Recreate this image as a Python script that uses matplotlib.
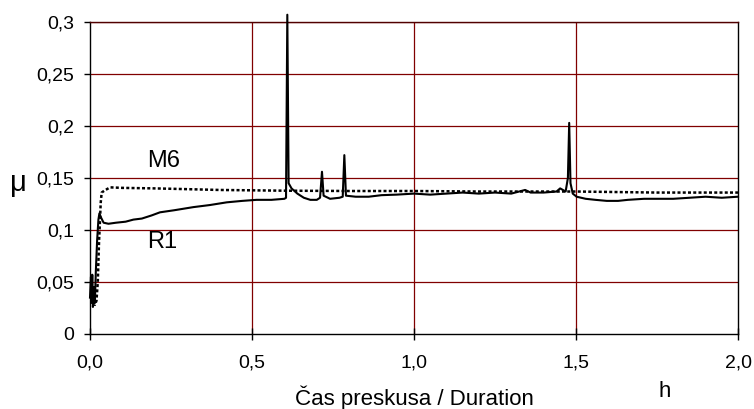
import matplotlib
matplotlib.use("Agg")
import matplotlib.pyplot as plt
from matplotlib.ticker import FuncFormatter

plt.rcParams['font.family'] = ['Liberation Sans', 'DejaVu Sans']

# R1 (solid)
r1_t = [0.000, 0.003, 0.005, 0.007, 0.009, 0.012, 0.015, 0.018, 0.022, 0.026,
        0.029, 0.034, 0.042, 0.057, 0.080, 0.110, 0.134, 0.160, 0.190, 0.216,
        0.260, 0.319, 0.370, 0.422, 0.470, 0.514, 0.560, 0.600, 0.605, 0.609,
        0.613, 0.622, 0.640, 0.660, 0.680, 0.700, 0.710, 0.716, 0.721, 0.741,
        0.770, 0.780, 0.785, 0.790, 0.820, 0.860, 0.900, 0.946, 1.000, 1.050,
        1.100, 1.150, 1.200, 1.250, 1.300, 1.343, 1.360, 1.400, 1.440, 1.451,
        1.468, 1.475, 1.479, 1.483, 1.490, 1.502, 1.530, 1.560, 1.595, 1.630,
        1.660, 1.710, 1.750, 1.800, 1.850, 1.900, 1.950, 2.000]
r1_mu = [0.035, 0.055, 0.030, 0.057, 0.026, 0.045, 0.030, 0.060, 0.090, 0.110,
         0.116, 0.112, 0.107, 0.106, 0.107, 0.108, 0.110, 0.111, 0.114, 0.117,
         0.119, 0.122, 0.124, 0.1266, 0.128, 0.129, 0.129, 0.130, 0.131, 0.307,
         0.145, 0.140, 0.135, 0.131, 0.129, 0.129, 0.131, 0.156, 0.133, 0.130,
         0.131, 0.132, 0.172, 0.133, 0.132, 0.132, 0.1335, 0.134, 0.135, 0.134,
         0.135, 0.136, 0.135, 0.136, 0.135, 0.1385, 0.136, 0.136, 0.137, 0.140,
         0.137, 0.150, 0.203, 0.145, 0.135, 0.132, 0.130, 0.129, 0.128, 0.128,
         0.129, 0.130, 0.130, 0.130, 0.131, 0.132, 0.131, 0.132]

# M6 (dotted)
m6_t = [0.000, 0.005, 0.010, 0.015, 0.020, 0.024, 0.026, 0.028, 0.031, 0.033,
        0.036, 0.045, 0.062, 0.100, 0.200, 0.270, 0.400, 0.600, 0.800, 1.000,
        1.200, 1.500, 1.750, 2.000]
m6_mu = [0.035, 0.040, 0.030, 0.028, 0.032, 0.050, 0.070, 0.090, 0.110, 0.126,
         0.136, 0.138, 0.141, 0.1405, 0.140, 0.1395, 0.1385, 0.1378, 0.1375, 0.1375,
         0.137, 0.137, 0.136, 0.136]

x_ticks = [0.0, 0.5, 1.0, 1.5, 2.0]
y_ticks = [0, 0.05, 0.1, 0.15, 0.2, 0.25, 0.3]

grid_col = '#800000'
W, H = 754, 409

fig = plt.figure(figsize=(7.54, 4.09), dpi=100)
ax = fig.add_axes([90/W, 1-334/H, 648/W, 312/H])

for y in y_ticks[1:]:
    ax.axhline(y, color=grid_col, lw=0.9, zorder=1)
for x in x_ticks[1:-1]:
    ax.axvline(x, color=grid_col, lw=0.9, zorder=1)

ax.plot(m6_t, m6_mu, color='black', lw=1.8, linestyle=(0, (1.2, 0.9)), zorder=3)
ax.plot(r1_t, r1_mu, color='black', lw=1.5, zorder=4, clip_on=False)

ax.set_xlim(0, 2.0)
ax.set_ylim(0, 0.3)
ax.set_xticks(x_ticks)
ax.set_yticks(y_ticks)

def fmt_x(v, pos):
    return f"{v:.1f}".replace('.', ',')

def fmt_y(v, pos):
    if abs(v) < 1e-9:
        return "0"
    s = f"{v:.2f}".rstrip('0')
    return s.replace('.', ',')

ax.xaxis.set_major_formatter(FuncFormatter(fmt_x))
ax.yaxis.set_major_formatter(FuncFormatter(fmt_y))
ax.tick_params(axis='x', direction='inout', length=8, width=1, labelsize=14, pad=11)
ax.tick_params(axis='y', direction='out', length=4.3, width=1, labelsize=14, pad=7)

for s in ['left', 'bottom', 'right']:
    ax.spines[s].set_color('black')
    ax.spines[s].set_linewidth(1.0)
ax.spines['top'].set_color('#500000')
ax.spines['top'].set_linewidth(1.0)

fig.text(164/W, 1-167.3/H, "M6", fontsize=17, ha='center', va='baseline')
fig.text(162/W, 1-248.3/H, "R1", fontsize=17, ha='center', va='baseline')
fig.text(18.3/W, 1-191/H, "μ", fontsize=21, ha='center', va='baseline')
fig.text(665/W, 1-396.7/H, "h", fontsize=16, ha='center', va='baseline')
fig.text(414/W, 1-405/H, "Čas preskusa / Duration", fontsize=16, ha='center', va='baseline')

fig.savefig("out.png", dpi=100)
